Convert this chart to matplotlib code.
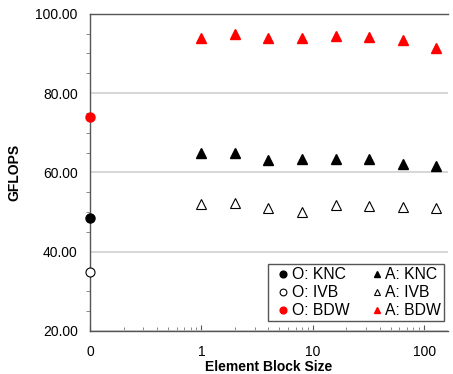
import matplotlib

matplotlib.use("Agg")
import matplotlib.pyplot as plt
from matplotlib.ticker import FixedLocator, FuncFormatter, LogLocator, MultipleLocator

plt.rcParams["font.family"] = ["Liberation Sans", "DejaVu Sans"]

# "O" runs have no block size; they sit at the left edge, labelled 0
o_x = 0.1
block_sizes = [1, 2, 4, 8, 16, 32, 64, 128]

o_knc = 48.4
o_ivb = 34.9
o_bdw = 74.1

a_knc = [64.8, 64.8, 63.1, 63.4, 63.4, 63.3, 62.0, 61.6]
a_ivb = [52.0, 52.2, 51.0, 50.0, 51.8, 51.5, 51.2, 51.0]
a_bdw = [93.9, 94.9, 94.0, 93.9, 94.5, 94.1, 93.3, 91.4]

fig = plt.figure(figsize=(4.53, 3.74), dpi=100)
ax = fig.add_axes([0.199, 0.115, 0.790, 0.848])

ms = 6.5
ax.plot([o_x], [o_knc], "o", color="black", ms=ms, clip_on=False, zorder=5, label="O: KNC")
ax.plot([o_x], [o_ivb], "o", mfc="white", mec="black", mew=0.8, ms=ms, clip_on=False, zorder=5, label="O: IVB")
ax.plot([o_x], [o_bdw], "o", color="red", ms=ms, clip_on=False, zorder=5, label="O: BDW")
ax.plot(block_sizes, a_knc, "^", color="black", ms=ms, label="A: KNC")
ax.plot(block_sizes, a_ivb, "^", mfc="white", mec="black", mew=0.8, ms=ms, label="A: IVB")
ax.plot(block_sizes, a_bdw, "^", color="red", ms=ms, label="A: BDW")

ax.set_xscale("log")
ax.set_xlim(0.1, 164)
ax.set_ylim(20, 100)

ax.xaxis.set_major_locator(FixedLocator([0.1, 1, 10, 100]))
ax.xaxis.set_major_formatter(FuncFormatter(lambda v, p: "0" if v < 0.5 else f"{v:g}"))
ax.xaxis.set_minor_locator(LogLocator(base=10, subs=range(2, 10)))
ax.xaxis.set_minor_formatter(FuncFormatter(lambda v, p: ""))

ax.yaxis.set_major_locator(MultipleLocator(20))
ax.yaxis.set_minor_locator(MultipleLocator(5))
ax.yaxis.set_major_formatter(FuncFormatter(lambda v, p: f"{v:.2f}"))

ax.grid(axis="y", which="major", color="#d0d0d0", lw=1.2)
ax.set_axisbelow(True)

for side in ("left", "bottom", "top"):
    ax.spines[side].set_color("#555555")
    ax.spines[side].set_linewidth(1.0)
ax.spines["right"].set_visible(False)

ax.tick_params(axis="x", which="major", direction="in", length=4, color="#555555",
               labelsize=10, pad=10)
ax.tick_params(axis="x", which="minor", direction="in", length=3, color="#777777")
ax.tick_params(axis="y", which="major", length=0, labelsize=10, pad=9)
ax.tick_params(axis="y", which="minor", direction="out", length=3, color="#777777")

ax.set_xlabel("Element Block Size", fontsize=10, fontweight="bold", labelpad=1)
ax.set_ylabel("GFLOPS", fontsize=10, fontweight="bold", labelpad=10)

handles, labels = ax.get_legend_handles_labels()
leg = ax.legend(handles, labels, ncol=2, loc="lower right", bbox_to_anchor=(0.99, 0.03),
                fontsize=11.3, markerscale=0.75, handlelength=1.5, handletextpad=-0.2,
                columnspacing=1.0, labelspacing=0.2, borderpad=0.2, borderaxespad=0,
                fancybox=False, framealpha=1, edgecolor="#555555")
leg.get_frame().set_linewidth(1.0)

fig.savefig("out.png", dpi=100)
